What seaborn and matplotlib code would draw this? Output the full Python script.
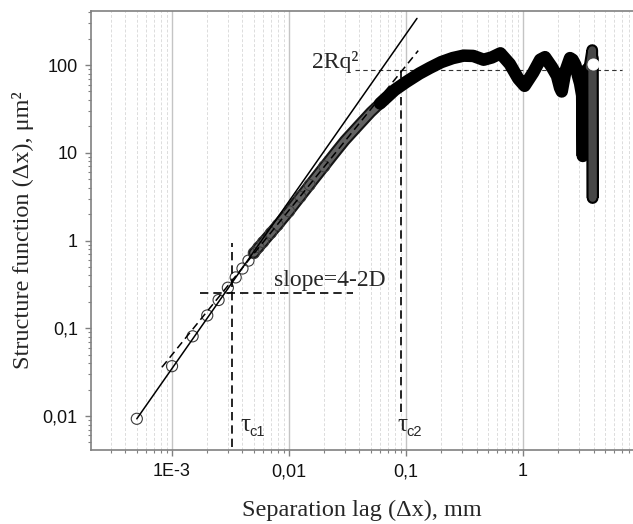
import numpy as np
import matplotlib
matplotlib.use('Agg')
import matplotlib.pyplot as plt
import matplotlib.ticker as mticker
import matplotlib.patheffects as pe
import seaborn as sns

# Structure function: lag in mm, S(lag) in um^2
# shortest lags, drawn as separate hollow circles
lag_pts = [0.0005, 0.001, 0.0015, 0.002, 0.0025, 0.003, 0.0035, 0.004, 0.0045, 0.005]
sf_pts = [0.0093, 0.037, 0.081, 0.14, 0.21, 0.29, 0.38, 0.48, 0.59, 0.72]

# where the circles merge into a grey band
lag_band = [0.005, 0.0055, 0.006, 0.007, 0.008, 0.01, 0.0125, 0.015, 0.02,
            0.025, 0.03, 0.04, 0.05, 0.06]
sf_band = [0.72, 0.84, 0.96, 1.22, 1.5, 2.15, 3.15, 4.3, 7.0,
           10.2, 13.8, 21, 29, 36.5]

# plateau and oscillating tail (solid black band)
lag_tail = [0.06, 0.08, 0.1, 0.13, 0.16, 0.2, 0.25, 0.31, 0.375, 0.46, 0.54,
            0.64, 0.77, 0.91, 1.03, 1.22, 1.4, 1.54, 1.76, 1.95, 2.07, 2.14,
            2.3, 2.52, 2.65, 2.8, 2.95, 3.07, 3.2, 3.24, 3.26, 3.28, 3.5, 3.7]
sf_tail = [36.5, 52, 64, 80, 93, 108, 120, 128, 127, 115, 122,
           136, 103, 70, 58, 82, 115, 123, 95, 75, 55, 50,
           85, 120, 115, 100, 75, 62, 45, 9.2, 40, 70, 88, 95]

# last lags: the vertical column near 4 mm
lag_last = [3.7, 3.9, 3.93, 3.94]
sf_last = [95, 148, 3.05, 120]
lag_end = [3.95]
sf_end = [104]

# fitted lines and markers of the characteristic scales
fit_x = [0.0005, 0.124]
fit_y = [0.0093, 340]
slope_x = [0.00082, 0.127]
slope_y = [0.036, 146]
slope_level = 0.254
slope_span = [0.00174, 0.0354]
tau_c1 = 0.00327
tau_c1_span = [0.0044, 0.93]
tau_c2 = 0.0906
tau_c2_span = [0.011, 88]
rq2 = 88
rq2_span = [0.0366, 7.0]

sns.set_theme(style='white')
plt.rcParams['font.family'] = ['Liberation Sans', 'DejaVu Sans']
serif = ['Liberation Serif', 'DejaVu Serif']

fig = plt.figure(figsize=(6.33, 5.24), dpi=100)
ax = fig.add_axes([91 / 633, 1 - 450 / 524, (633 - 91) / 633, (450 - 11) / 524])
ax.set_xscale('log')
ax.set_yscale('log')

# data
sns.lineplot(x=lag_band, y=sf_band, sort=False, estimator=None, ax=ax,
             color='#626262', linewidth=5.2, solid_capstyle='round',
             path_effects=[pe.Stroke(linewidth=8.2, foreground='#151515'), pe.Normal()],
             zorder=3)
sns.lineplot(x=lag_tail, y=sf_tail, sort=False, estimator=None, ax=ax,
             color='black', linewidth=9, solid_capstyle='round',
             solid_joinstyle='round', zorder=3)
sns.lineplot(x=lag_last, y=sf_last, sort=False, estimator=None, ax=ax,
             color='#474747', linewidth=5.5, solid_capstyle='round',
             path_effects=[pe.Stroke(linewidth=8.5, foreground='black',
                                     capstyle='round'), pe.Normal()],
             zorder=3)
sns.scatterplot(x=lag_pts, y=sf_pts, ax=ax, s=64, marker='o',
                facecolor='none', edgecolor='#3a3a3a', linewidth=0.8, zorder=4)
sns.scatterplot(x=lag_band[1:9], y=sf_band[1:9], ax=ax, s=64, marker='o',
                facecolor='none', edgecolor='#3a3a3a', linewidth=0.7, zorder=4)
sns.scatterplot(x=lag_end, y=sf_end, ax=ax, s=64, marker='o',
                color='white', edgecolor='white', zorder=5)

# fit lines
ax.plot(fit_x, fit_y, color='black', lw=1.1, zorder=5)
ax.plot(slope_x, slope_y, color='black', lw=1.1, ls=(0, (5, 3)), zorder=5)
ax.plot(slope_span, [slope_level, slope_level], color='black', lw=1.2,
        ls=(0, (5, 3)), zorder=5)
ax.plot([tau_c1, tau_c1], tau_c1_span, color='black', lw=1.2, ls=(0, (5, 3)), zorder=5)
ax.plot([tau_c2, tau_c2], tau_c2_span, color='black', lw=1.2, ls=(0, (5, 3)), zorder=5)
ax.plot(rq2_span, [rq2, rq2], color='#333333', lw=0.8, ls=(0, (4, 3)), zorder=2)

# labels on the plot
ax.text(0.0157, 92, '2Rq²', family=serif, fontsize=17, ha='left', va='baseline')
ax.text(0.00744, 0.302, 'slope=4-2D', family=serif, fontsize=17, ha='left', va='baseline')
for xt, sub in [(0.00381, 'c1'), (0.0837, 'c2')]:
    ax.text(xt, 0.0068, 'τ', family=serif, fontsize=18, ha='left', va='baseline')
    ax.annotate(sub, xy=(xt, 0.0068), xytext=(7, -4), textcoords='offset points',
                fontsize=10.5, ha='left', va='baseline')

ax.set_xlim(2.03e-4, 8.7)
ax.set_ylim(0.0041, 413)

# ticks, comma decimals as in the original
ax.xaxis.set_major_locator(mticker.FixedLocator([1e-3, 1e-2, 1e-1, 1]))
ax.xaxis.set_major_formatter(mticker.FixedFormatter(['1E-3', '0,01', '0,1', '1']))
ax.yaxis.set_major_locator(mticker.FixedLocator([0.01, 0.1, 1, 10, 100]))
ax.yaxis.set_major_formatter(mticker.FixedFormatter(['0,01', '0,1', '1', '10', '100']))
ax.xaxis.set_minor_locator(mticker.LogLocator(base=10, subs=np.arange(2, 10), numticks=20))
ax.yaxis.set_minor_locator(mticker.LogLocator(base=10, subs=np.arange(2, 10), numticks=20))
ax.xaxis.set_minor_formatter(mticker.NullFormatter())
ax.yaxis.set_minor_formatter(mticker.NullFormatter())
ax.tick_params(which='major', direction='out', length=4.5, width=1.0,
               color='#808080', labelsize=13, pad=5, labelcolor='#111111',
               bottom=True, left=True, top=False, right=False)
ax.tick_params(which='minor', direction='out', length=2.5, width=0.8,
               color='#808080', bottom=True, left=True, top=False, right=False)

ax.grid(which='major', axis='x', color='#c4c4c4', lw=1.0, ls='-')
ax.grid(which='minor', axis='x', color='#dcdcdc', lw=0.7, ls=(0, (3, 2)))
ax.grid(which='both', axis='y', visible=False)
ax.set_axisbelow(True)

for side in ['left', 'bottom', 'top']:
    ax.spines[side].set_color('#808080')
    ax.spines[side].set_linewidth(1.2)
ax.spines['right'].set_visible(False)

ax.set_xlabel('Separation lag (Δx), mm', family=serif, fontsize=17.5, labelpad=14)
ax.set_ylabel('Structure function (Δx), μm²', family=serif, fontsize=17.5, labelpad=6)

fig.savefig('out.png', dpi=100, facecolor='white')
